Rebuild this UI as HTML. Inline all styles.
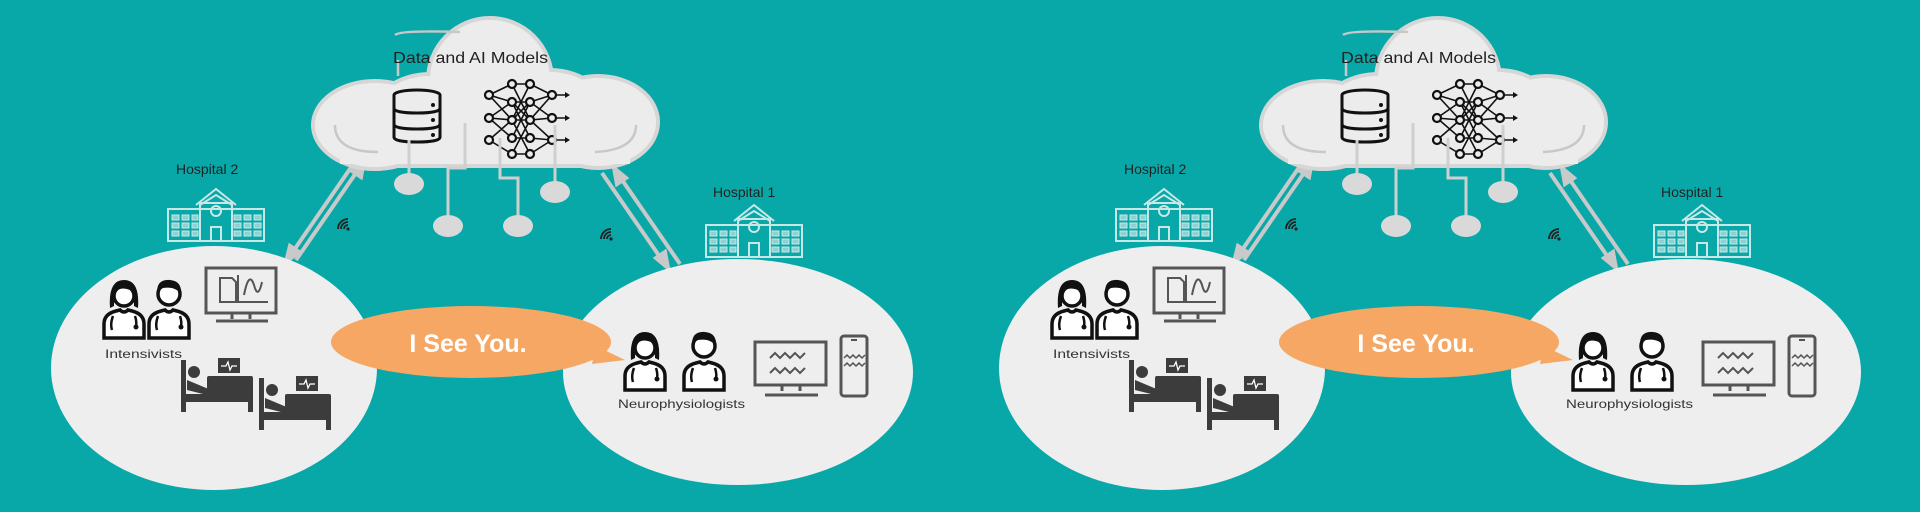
<!DOCTYPE html>
<html><head><meta charset="utf-8"><style>
html,body{margin:0;padding:0;background:#08A8A9;}
svg{display:block}
text{font-family:"Liberation Sans",sans-serif;}
</style></head><body>
<svg width="1920" height="512" viewBox="0 0 1920 512" xmlns="http://www.w3.org/2000/svg">
<rect width="1920" height="512" fill="#08A8A9"/>
<defs>
<g id="doc">
 <path d="M4 62 V48 Q4 38 16 35 L20 34 Q24 38 28 34 L32 35 Q44 38 44 48 V62 Z" fill="#fff" stroke="#111" stroke-width="3.5"/>
 <circle cx="24" cy="18" r="11" fill="#fff" stroke="#111" stroke-width="3.5"/>
 <path d="M12 16 Q12 3 25 4 Q37 5 36 18 Q30 10 18 12 Z" fill="#111"/>
 <path d="M13 40 Q10 48 12 54 M35 40 Q37 46 36 50" fill="none" stroke="#111" stroke-width="2.5"/>
 <circle cx="36" cy="51" r="2.5" fill="#111"/>
</g>
<g id="docf">
 <path d="M4 62 V48 Q4 38 16 35 L20 34 Q24 38 28 34 L32 35 Q44 38 44 48 V62 Z" fill="#fff" stroke="#111" stroke-width="3.5"/>
 <path d="M10 32 Q8 4 24 4 Q40 4 38 32 L34 30 L34 18 L14 18 L14 30 Z" fill="#111"/>
 <circle cx="24" cy="20" r="10" fill="#fff" stroke="#111" stroke-width="3.5"/>
 <path d="M14 18 Q20 8 34 16 Q30 6 22 7 Q14 8 14 18Z" fill="#111"/>
 <path d="M13 40 Q10 48 12 54 M35 40 Q37 46 36 50" fill="none" stroke="#111" stroke-width="2.5"/>
 <circle cx="36" cy="51" r="2.5" fill="#111"/>
</g>
<g id="hosp">
 <g fill="none" stroke="#C8E8E8" stroke-width="2">
  <path d="M30 18 L50 2 L70 18 M34 18 L50 8 L66 18"/>
  <rect x="2" y="22" width="96" height="32"/>
  <rect x="34" y="16" width="32" height="38"/>
  <circle cx="50" cy="24" r="5"/>
  <rect x="45" y="40" width="10" height="14"/>
 </g>
 <g fill="#8fd0d0" stroke="#C8E8E8" stroke-width="1">
  <rect x="6" y="28" width="7" height="5"/><rect x="16" y="28" width="7" height="5"/><rect x="26" y="28" width="6" height="5"/>
  <rect x="6" y="36" width="7" height="5"/><rect x="16" y="36" width="7" height="5"/><rect x="26" y="36" width="6" height="5"/>
  <rect x="6" y="44" width="7" height="5"/><rect x="16" y="44" width="7" height="5"/><rect x="26" y="44" width="6" height="5"/>
  <rect x="68" y="28" width="7" height="5"/><rect x="78" y="28" width="7" height="5"/><rect x="88" y="28" width="7" height="5"/>
  <rect x="68" y="36" width="7" height="5"/><rect x="78" y="36" width="7" height="5"/><rect x="88" y="36" width="7" height="5"/>
  <rect x="68" y="44" width="7" height="5"/><rect x="78" y="44" width="7" height="5"/><rect x="88" y="44" width="7" height="5"/>
 </g>
</g>
<g id="wifi" fill="none" stroke="#222" stroke-width="1.8">
 <path d="M2 12 A10 10 0 0 1 12 2 M5 12 A7 7 0 0 1 12 5 M8 12 A4 4 0 0 1 12 8"/>
 <circle cx="12" cy="12" r="1.6" fill="#222" stroke="none"/>
</g>
<g id="bed" fill="#3c3c3c">
 <rect x="0" y="0" width="5" height="52"/>
 <rect x="0" y="34" width="72" height="8"/>
 <rect x="67" y="34" width="5" height="18"/>
 <circle cx="13" cy="12" r="6"/>
 <path d="M6 20 L30 30 L30 36 L6 30Z"/>
 <rect x="26" y="16" width="46" height="22" rx="2"/>
 <rect x="37" y="-2" width="22" height="15" fill="#3c3c3c"/>
 <path d="M40 6 H45 L47 2 L49 10 L51 6 H56" fill="none" stroke="#fff" stroke-width="1.3"/>
</g>
</defs>

<g id="half">
 <g stroke="#C9C9C9" stroke-width="4" fill="#C9C9C9">
  <line x1="354" y1="163" x2="292" y2="253"/>
  <path d="M286 262 L290 246 L299 252Z"/>
  <line x1="296" y1="260" x2="358" y2="170"/>
  <path d="M364 161 L361 177 L352 171Z"/>
  <line x1="602" y1="173" x2="662" y2="260"/>
  <path d="M668 268 L656 258 L665 252Z"/>
  <line x1="680" y1="264" x2="620" y2="177"/>
  <path d="M614 168 L626 178 L617 184Z"/>
 </g>
 <g fill="#ECECEC" stroke="#D6D6D6" stroke-width="4">
  <circle cx="490" cy="80" r="62"/>
  <ellipse cx="375" cy="125" rx="62" ry="44"/>
  <ellipse cx="598" cy="122" rx="60" ry="46"/>
  <ellipse cx="430" cy="120" rx="60" ry="46"/>
  <ellipse cx="550" cy="118" rx="60" ry="48"/>
  <rect x="370" y="140" width="230" height="26"/>
 </g>
 <g fill="#ECECEC">
  <circle cx="490" cy="80" r="60"/>
  <ellipse cx="375" cy="125" rx="60" ry="42"/>
  <ellipse cx="598" cy="122" rx="58" ry="44"/>
  <ellipse cx="430" cy="120" rx="58" ry="44"/>
  <ellipse cx="550" cy="118" rx="58" ry="46"/>
  <rect x="340" y="110" width="290" height="54"/>
 </g>
 <g fill="none" stroke="#C8C8C8" stroke-width="2.5">
  <path d="M395 35 Q400 30 460 32"/>
  <path d="M335 125 Q335 152 378 152"/>
  <path d="M636 125 Q636 150 595 152"/>
  <path d="M398 60 V76"/>
 </g>
 <text x="393" y="63" font-size="16" fill="#222" textLength="155" lengthAdjust="spacingAndGlyphs">Data and AI Models</text>
 <g fill="#ECECEC" stroke="#111" stroke-width="3">
  <ellipse cx="417" cy="95" rx="23" ry="5"/>
  <path d="M394 95 V137 Q394 142 417 142 Q440 142 440 137 V95"/>
  <path d="M394 108 Q394 113 417 113 Q440 113 440 108 M394 124 Q394 129 417 129 Q440 129 440 124"/>
 </g>
 <g fill="#111"><circle cx="433" cy="105" r="2"/><circle cx="433" cy="120" r="2"/><circle cx="433" cy="135" r="2"/></g>
 <g stroke="#111" stroke-width="1.6" fill="none">
  <path d="M489 95 L512 84 L530 84 L552 95 M489 95 L512 102 L530 102 L552 95 M489 95 L512 120 M489 118 L512 102 L530 120 L552 118 M489 118 L512 138 L530 138 L552 140 M489 140 L512 120 L530 102 L552 118 M489 140 L512 154 L530 154 L552 140 M512 84 L530 120 L512 154 M530 84 L512 120 L530 154 M512 102 L530 138 M530 102 L512 138 M489 118 L512 120 L530 120 M552 95 L530 120 M552 140 L530 120 L552 95"/>
  <path d="M552 95 H566 M552 118 H566 M552 140 H566"/>
 </g>
 <g fill="#ECECEC" stroke="#111" stroke-width="2.2">
  <circle cx="489" cy="95" r="4"/><circle cx="489" cy="118" r="4"/><circle cx="489" cy="140" r="4"/>
  <circle cx="512" cy="84" r="4"/><circle cx="512" cy="102" r="4"/><circle cx="512" cy="120" r="4"/><circle cx="512" cy="138" r="4"/><circle cx="512" cy="154" r="4"/>
  <circle cx="530" cy="84" r="4"/><circle cx="530" cy="102" r="4"/><circle cx="530" cy="120" r="4"/><circle cx="530" cy="138" r="4"/><circle cx="530" cy="154" r="4"/>
  <circle cx="552" cy="95" r="4"/><circle cx="552" cy="118" r="4"/><circle cx="552" cy="140" r="4"/>
 </g>
 <g fill="#111"><path d="M565 92 L570 95 L565 98Z M565 115 L570 118 L565 121Z M565 137 L570 140 L565 143Z"/></g>
 <g stroke="#CFCFCF" stroke-width="3" fill="none">
  <path d="M409 140 V178"/>
  <path d="M465 123 V168 H448 V220"/>
  <path d="M500 138 V178 H518 V220"/>
  <path d="M555 125 V186"/>
 </g>
 <g fill="#D9D9D9">
  <ellipse cx="409" cy="184" rx="15" ry="11"/>
  <ellipse cx="448" cy="226" rx="15" ry="11"/>
  <ellipse cx="518" cy="226" rx="15" ry="11"/>
  <ellipse cx="555" cy="192" rx="15" ry="11"/>
 </g>
 <text x="176" y="174" font-size="14" fill="#222">Hospital 2</text>
 <use href="#hosp" x="166" y="187"/>
 <text x="713" y="197" font-size="14" fill="#222">Hospital 1</text>
 <use href="#hosp" x="704" y="203"/>
 <use href="#wifi" x="336" y="217"/>
 <use href="#wifi" x="599" y="227"/>
 <ellipse cx="214" cy="368" rx="163" ry="122" fill="#EEEEEE"/>
 <ellipse cx="738" cy="372" rx="175" ry="113" fill="#EEEEEE"/>
 <path d="M596 346 L625 360 L592 364Z" fill="#F5A763"/>
 <ellipse cx="471" cy="342" rx="140" ry="36" fill="#F5A763"/>
 <text x="468" y="352" font-size="25" font-weight="bold" fill="#fff" text-anchor="middle">I See You.</text>
 <use href="#docf" x="100" y="276"/>
 <use href="#doc" x="145" y="276"/>
 <text x="105" y="358" font-size="12" fill="#333" textLength="77" lengthAdjust="spacingAndGlyphs">Intensivists</text>
 <g fill="none" stroke="#555" stroke-width="3">
  <rect x="206" y="268" width="70" height="45"/>
  <path d="M232 313 V319 M250 313 V319 M216 321 H268"/>
  <path d="M220 278 H232 L236 282 V302 H220Z M238 275 V302 H268" stroke-width="2"/>
  <path d="M244 295 Q249 270 254 285 Q258 300 262 282" stroke-width="2"/>
 </g>
 <use href="#bed" x="181" y="360"/>
 <use href="#bed" x="259" y="378"/>
 <use href="#docf" x="621" y="328"/>
 <use href="#doc" x="680" y="328"/>
 <text x="618" y="408" font-size="12" fill="#333" textLength="127" lengthAdjust="spacingAndGlyphs">Neurophysiologists</text>
 <g fill="none" stroke="#555" stroke-width="3">
  <rect x="755" y="342" width="71" height="43"/>
  <path d="M782 385 V391 M800 385 V391 M765 395 H818"/>
  <path d="M770 358 l5 -5 l5 5 l5 -5 l5 5 l5 -5 l5 5 l5 -5 M770 373 l5 -5 l5 5 l5 -5 l5 5 l5 -5 l5 5 l5 -5" stroke-width="2"/>
  <rect x="841" y="336" width="26" height="60" rx="3"/>
  <path d="M844 358 l3 -3 l3 3 l3 -3 l3 3 l3 -3 l3 3 l3 -3 M844 366 l3 -3 l3 3 l3 -3 l3 3 l3 -3 l3 3 l3 -3" stroke-width="1.5"/>
  <path d="M851 340 H857" stroke-width="2"/>
 </g>
</g>
<use href="#half" x="948" y="0"/>
</svg>
</body></html>
